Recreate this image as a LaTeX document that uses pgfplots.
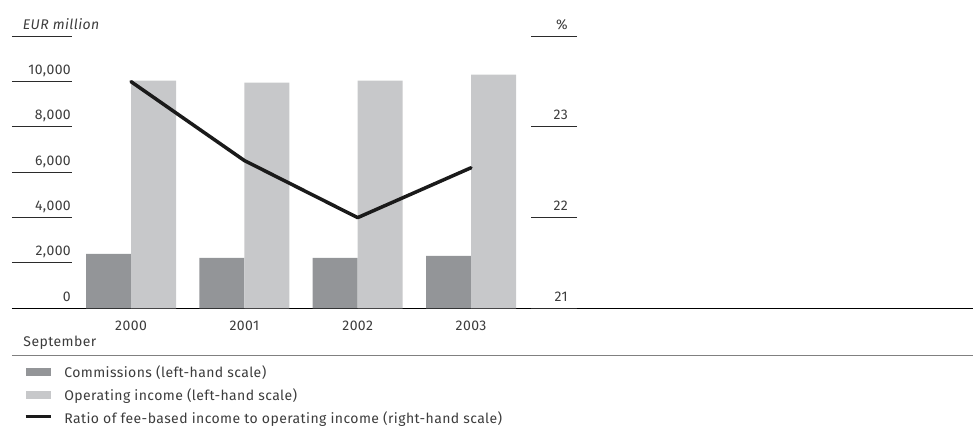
\documentclass[border=0pt]{standalone}
\usepackage{pgfplots}
\pgfplotsset{compat=1.18}
\usepackage{fontspec}
\setmainfont{Fira Sans}[LetterSpace=3]
\definecolor{txt}{HTML}{3C3C3C}
\definecolor{comm}{HTML}{939598}
\definecolor{opinc}{HTML}{C7C8CA}
\definecolor{ratio}{HTML}{1A1A1A}
\definecolor{rule}{HTML}{2B2B2B}
\definecolor{botrule}{HTML}{808080}
\begin{document}
\begin{tikzpicture}[font=\fontsize{14}{16}\selectfont, text=txt]
\path[use as bounding box] (-12pt,-119.7pt) rectangle (961pt,308.3pt);
\begin{axis}[
  at={(0,0)}, anchor=south west,
  scale only axis, width=961pt, height=272pt,
  xmin=-1.05, xmax=7.429, ymin=0, ymax=12000,
  axis x line*=bottom, axis y line*=left,
  x axis line style={-, draw=black, line width=1pt},
  y axis line style={draw=none},
  scaled y ticks=false,
  xtick={0,1,2,3}, xticklabels={2000,2001,2002,2003},
  xtick style={draw=none},
  xticklabel style={anchor=base, inner sep=0pt, yshift=38.3pt},
  ytick={0,2000,4000,6000,8000,10000,12000},
  yticklabels={0,{2,000},{4,000},{6,000},{8,000},{10,000},{}},
  tick align=inside, major tick length=60pt,
  ytick style={draw=rule, line width=1pt},
  yticklabel style={anchor=base east, inner sep=0pt, xshift=59pt, yshift=7pt},
  ybar=0pt, bar width=45pt,
  legend cell align=left,
  legend style={at={(0,0)}, anchor=north west, xshift=12pt, yshift=-58.7pt,
    draw=none, fill=none, inner sep=0pt, outer sep=0pt,
    column sep=12pt, row sep=9.5pt,
    nodes={inner sep=0pt, text height=10pt, text depth=3.5pt},
    font=\fontsize{14}{16}\selectfont, text=txt},
]
\addplot[fill=comm, draw=none,
  legend image code/.code={\fill[comm] (0pt,-2.3pt) rectangle (25pt,6.2pt);}]
  coordinates {(0,2400) (1,2222) (2,2222) (3,2311)};
\addlegendentry{Commissions (left-hand scale)}
\addplot[fill=opinc, draw=none,
  legend image code/.code={\fill[opinc] (0pt,-2.3pt) rectangle (25pt,6.2pt);}]
  coordinates {(0,10044) (1,9956) (2,10044) (3,10311)};
\addlegendentry{Operating income (left-hand scale)}
\addlegendimage{legend image code/.code={\draw[ratio, line width=3.3pt] (0pt,3pt) -- (25pt,3pt);}}
\addlegendentry{Ratio of fee-based income to operating income (right-hand scale)}
\end{axis}
\begin{axis}[
  at={(0,0)}, anchor=south west,
  scale only axis, width=565pt, height=272pt,
  xmin=-1.05, xmax=3.9353, ymin=21, ymax=24,
  axis x line=none, axis y line*=right,
  y axis line style={draw=none},
  ytick={21,22,23,24}, yticklabels={21,22,23,\%},
  tick align=inside, major tick length=46pt,
  ytick style={draw=rule, line width=1pt},
  yticklabel style={anchor=base east, inner sep=0pt, xshift=-9pt, yshift=7pt},
]
\addplot[ratio, line width=3.5pt, line cap=round, line join=round]
  coordinates {(0,23.5) (1,22.63) (2,22.0) (3,22.55)};
\end{axis}
\draw[botrule, line width=1.5pt] (0pt,-47.2pt) -- (961pt,-47.2pt);
\node[anchor=base west, inner sep=0pt] at (11.3pt,-38.2pt) {September};
\node[anchor=base west, inner sep=0pt, font=\fontsize{14}{16}\selectfont\itshape] at (10.7pt,279pt) {EUR million};
\end{tikzpicture}
\end{document}
